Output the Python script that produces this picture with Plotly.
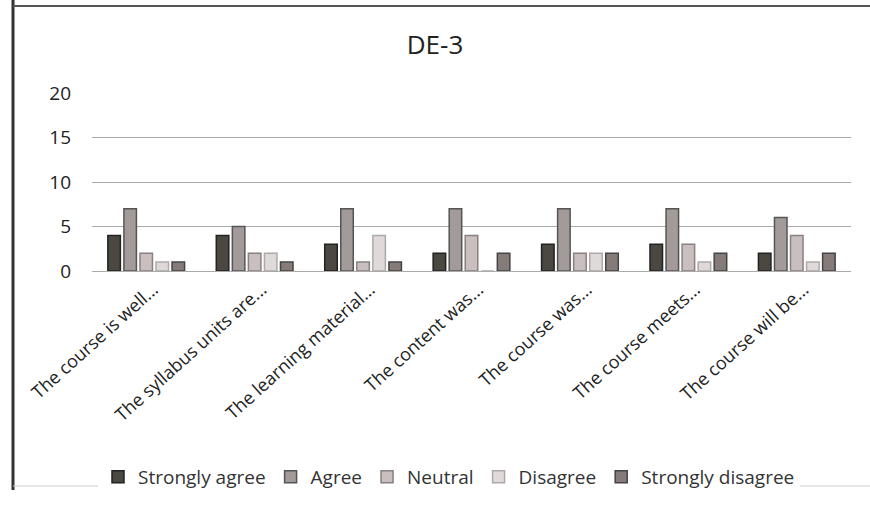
import plotly.graph_objects as go

categories = ["The course is well...", "The syllabus units are...", "The learning material...",
              "The content was...", "The course was...", "The course meets...", "The course will be..."]
strongly_agree = [4, 4, 3, 2, 3, 3, 2]
agree = [7, 5, 7, 7, 7, 7, 6]
neutral = [2, 2, 1, 4, 2, 3, 4]
disagree = [1, 2, 4, 0, 2, 1, 1]
strongly_disagree = [1, 1, 1, 2, 2, 2, 2]
series_names = ["Strongly agree", "Agree", "Neutral", "Disagree", "Strongly disagree"]
y_ticks = [0, 5, 10, 15, 20]

series = [strongly_agree, agree, neutral, disagree, strongly_disagree]
fills = ["#4a4840", "#a39a9a", "#c9bfbf", "#e0d9d9", "#857c7a"]
lines = ["#222", "#555", "#8a8080", "#b0a8a8", "#444"]

fig = go.Figure()
for name, vals, fc, lc in zip(series_names, series, fills, lines):
    fig.add_trace(go.Bar(name=name, x=categories, y=vals,
                         marker=dict(color=fc, line=dict(color=lc, width=1.5))))

L, R, T, B = 92, 851, 93, 271
W, H = 870, 511
pw, ph = R - L, B - T

fig.update_layout(
    width=W, height=H,
    margin=dict(l=L, r=W - R, t=T, b=H - B, autoexpand=False),
    paper_bgcolor="white", plot_bgcolor="white",
    barmode="group", bargap=0.26, bargroupgap=0.22,
    font=dict(family="Open Sans, Lato, sans-serif", color="#222"),
    title=dict(text="DE-3", x=0.5, xanchor="center", y=1 - 45 / H, yanchor="middle",
               font=dict(size=26, color="#222")),
    showlegend=True,
    legend=dict(orientation="h", x=(449 - L) / pw, xanchor="center",
                y=-(477 - B) / ph, yanchor="middle",
                font=dict(size=19, color="#333"), itemwidth=30,
                traceorder="normal"),
    yaxis=dict(range=[0, 20], tickvals=y_ticks, showgrid=True, gridcolor="#aaa",
               gridwidth=1, zeroline=False, showline=False, automargin=False,
               tickfont=dict(size=19, color="#222"), ticklabelstandoff=20),
    xaxis=dict(tickangle=-42, tickfont=dict(size=18, color="#222"), showline=True,
               linecolor="#aaa", linewidth=1, showgrid=False, automargin=False,
               ticklabelshift=7),
    shapes=[
        dict(type="line", xref="paper", yref="paper",
             x0=(13 - L) / pw, x1=(13 - L) / pw, y0=(B - 0) / ph, y1=(B - 490) / ph,
             line=dict(color="#333", width=3)),
        dict(type="line", xref="paper", yref="paper",
             x0=(13 - L) / pw, x1=(870 - L) / pw, y0=(B - 6) / ph, y1=(B - 6) / ph,
             line=dict(color="#555", width=2)),
        dict(type="line", xref="paper", yref="paper",
             x0=(13 - L) / pw, x1=(870 - L) / pw, y0=(B - 486) / ph, y1=(B - 486) / ph,
             line=dict(color="#ccc", width=1)),
    ],
)

fig.write_html("out.html", config={"displayModeBar": False},
               post_script="document.body.style.margin='0';")
